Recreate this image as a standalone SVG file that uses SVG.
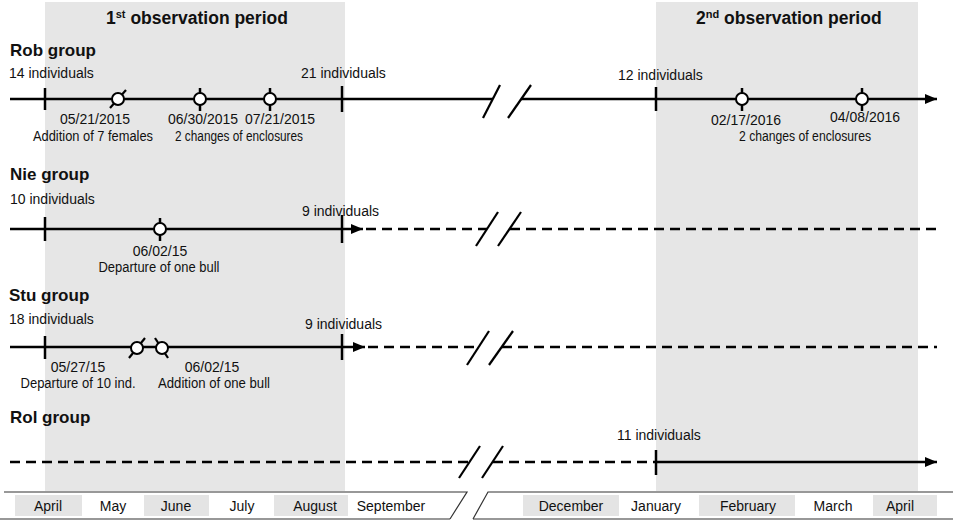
<svg xmlns="http://www.w3.org/2000/svg" width="957" height="523" viewBox="0 0 957 523">
<style>
text{font-family:"Liberation Sans",Arial,sans-serif;fill:#111}
.t{font-size:14px}
.c{text-anchor:middle}
.h{font-size:17px;font-weight:bold}
.ttl{font-size:17.5px;font-weight:bold}
.ln{stroke:#000;stroke-width:2.5;fill:none}
.dash{stroke:#000;stroke-width:2.5;fill:none;stroke-dasharray:10 6}
.tk{stroke:#000;stroke-width:2.5}
.sl{stroke:#000;stroke-width:2.2}
.ev{fill:#fff;stroke:#000;stroke-width:2}
.bar{stroke:#333;stroke-width:1.2;fill:none}
.cell{fill:#e4e4e4}
.per{fill:#e6e6e6}
</style>
<defs>
<marker id="arr" markerUnits="userSpaceOnUse" markerWidth="13" markerHeight="11" refX="12" refY="5" orient="auto">
<path d="M0,0 L12,5 L0,10 z" fill="#000"/>
</marker>
</defs>

<g id="periods">
<rect class="per" x="45" y="2" width="300" height="489"/>
<rect class="per" x="656" y="2" width="262" height="489"/>
<text class="ttl" x="106" y="24">1<tspan font-size="11" dy="-6">st</tspan><tspan dy="6"> observation period</tspan></text>
<text class="ttl" x="696" y="24">2<tspan font-size="11" dy="-6">nd</tspan><tspan dy="6"> observation period</tspan></text>
</g>

<g id="connectors">
<!-- Rob -->
<line class="ln" x1="10" y1="99" x2="493" y2="99"/>
<line class="ln" x1="521" y1="99" x2="937" y2="99" marker-end="url(#arr)"/>
<line class="sl" x1="483" y1="118" x2="500" y2="85"/>
<line class="sl" x1="508" y1="118" x2="531" y2="85"/>
<!-- Nie -->
<line class="ln" x1="10" y1="229" x2="363" y2="229" marker-end="url(#arr)"/>
<line class="dash" x1="366" y1="229" x2="487" y2="229"/>
<line class="dash" x1="510" y1="229" x2="937" y2="229"/>
<line class="sl" x1="476" y1="246" x2="498" y2="212"/>
<line class="sl" x1="498" y1="246" x2="521" y2="212"/>
<!-- Stu -->
<line class="ln" x1="10" y1="347" x2="365" y2="347" marker-end="url(#arr)"/>
<line class="dash" x1="368" y1="347" x2="479" y2="347"/>
<line class="dash" x1="502" y1="347" x2="937" y2="347"/>
<line class="sl" x1="467" y1="365" x2="489" y2="331"/>
<line class="sl" x1="489" y1="365" x2="513" y2="331"/>
<!-- Rol -->
<line class="dash" x1="10" y1="462" x2="469" y2="462"/>
<line class="dash" x1="493" y1="462" x2="656" y2="462"/>
<line class="ln" x1="656" y1="462" x2="937" y2="462" marker-end="url(#arr)"/>
<line class="sl" x1="459" y1="478" x2="480" y2="446"/>
<line class="sl" x1="482" y1="478" x2="503" y2="446"/>
</g>

<g id="rob">
<text class="h" x="10" y="56">Rob group</text>
<text class="t" x="9" y="78">14 individuals</text>
<text class="t" x="301" y="78">21 individuals</text>
<text class="t" x="618" y="80">12 individuals</text>
<line class="tk" x1="45" y1="88" x2="45" y2="110"/>
<line class="tk" x1="342" y1="86" x2="342" y2="112"/>
<line class="tk" x1="656" y1="87" x2="656" y2="111"/>
<line class="sl" x1="110" y1="108" x2="126" y2="90"/>
<circle class="ev" cx="118" cy="99" r="6"/>
<line class="tk" x1="200" y1="88" x2="200" y2="111"/>
<circle class="ev" cx="200" cy="99" r="6"/>
<line class="tk" x1="270" y1="88" x2="270" y2="111"/>
<circle class="ev" cx="270" cy="99" r="6"/>
<line class="tk" x1="742" y1="88" x2="742" y2="111"/>
<circle class="ev" cx="742" cy="99" r="6"/>
<line class="tk" x1="862" y1="88" x2="862" y2="111"/>
<circle class="ev" cx="862" cy="99" r="6"/>
<text class="t c" x="95" y="124">05/21/2015</text>
<text class="t c" x="93" y="141" textLength="120" lengthAdjust="spacingAndGlyphs">Addition of 7 females</text>
<text class="t c" x="203" y="124">06/30/2015</text>
<text class="t c" x="280" y="124">07/21/2015</text>
<text class="t c" x="239" y="141" textLength="128" lengthAdjust="spacingAndGlyphs">2 changes of enclosures</text>
<text class="t c" x="746" y="125">02/17/2016</text>
<text class="t c" x="865" y="122">04/08/2016</text>
<text class="t c" x="805" y="141" textLength="132" lengthAdjust="spacingAndGlyphs">2 changes of enclosures</text>
</g>

<g id="nie">
<text class="h" x="10" y="180">Nie group</text>
<text class="t" x="10" y="204">10 individuals</text>
<text class="t" x="302" y="216">9 individuals</text>
<line class="tk" x1="45" y1="217" x2="45" y2="241"/>
<line class="tk" x1="342" y1="215" x2="342" y2="243"/>
<line class="tk" x1="160" y1="218" x2="160" y2="241"/>
<circle class="ev" cx="160" cy="229" r="6"/>
<text class="t c" x="160" y="256">06/02/15</text>
<text class="t c" x="159" y="272" textLength="121" lengthAdjust="spacingAndGlyphs">Departure of one bull</text>
</g>

<g id="stu">
<text class="h" x="9" y="301">Stu group</text>
<text class="t" x="9" y="324">18 individuals</text>
<text class="t" x="305" y="329">9 individuals</text>
<line class="tk" x1="45" y1="336" x2="45" y2="359"/>
<line class="tk" x1="342" y1="334" x2="342" y2="360"/>
<line class="sl" x1="129" y1="358" x2="145" y2="338"/>
<circle class="ev" cx="137" cy="348" r="6"/>
<line class="sl" x1="155" y1="338" x2="168" y2="358"/>
<circle class="ev" cx="162" cy="348" r="6"/>
<text class="t c" x="78" y="372">05/27/15</text>
<text class="t c" x="78" y="388" textLength="115" lengthAdjust="spacingAndGlyphs">Departure of 10 ind.</text>
<text class="t c" x="212" y="372">06/02/15</text>
<text class="t c" x="214" y="388" textLength="112" lengthAdjust="spacingAndGlyphs">Addition of one bull</text>
</g>

<g id="rol">
<text class="h" x="10" y="423">Rol group</text>
<text class="t" x="617" y="440">11 individuals</text>
<line class="tk" x1="656" y1="450" x2="656" y2="475"/>
</g>

<g id="months">
<polyline class="bar" points="4,492 467,492 450,519"/>
<line class="bar" x1="0" y1="519" x2="450" y2="519"/>
<polyline class="bar" points="473,519 488,492 953,492"/>
<line class="bar" x1="473" y1="519" x2="953" y2="519"/>
<rect class="cell" x="15" y="495" width="67" height="21"/>
<rect class="cell" x="144" y="495" width="65" height="21"/>
<rect class="cell" x="274" y="495" width="74" height="21"/>
<rect class="cell" x="523" y="495" width="96" height="21"/>
<rect class="cell" x="699" y="495" width="96" height="21"/>
<rect class="cell" x="873" y="495" width="64" height="21"/>
<text class="t c" x="48" y="511">April</text>
<text class="t c" x="113" y="511">May</text>
<text class="t c" x="176" y="511">June</text>
<text class="t c" x="242" y="511">July</text>
<text class="t c" x="315" y="511">August</text>
<text class="t c" x="391" y="511">September</text>
<text class="t c" x="571" y="511">December</text>
<text class="t c" x="656" y="511">January</text>
<text class="t c" x="748" y="511">February</text>
<text class="t c" x="833" y="511">March</text>
<text class="t c" x="900" y="511">April</text>
</g>
</svg>
